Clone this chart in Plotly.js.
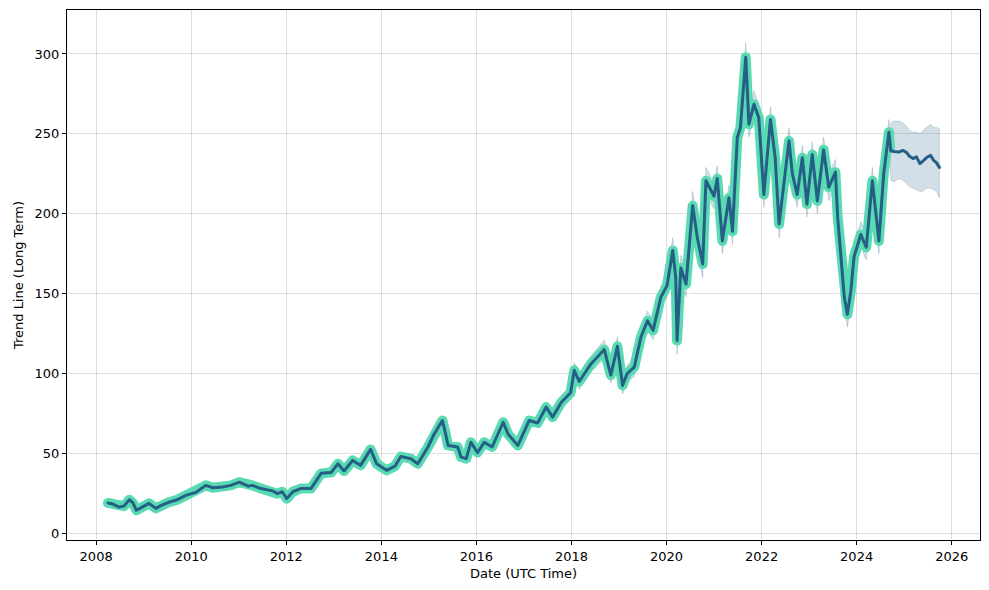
<!DOCTYPE html>
<html>
<head>
<meta charset="utf-8">
<script src="https://cdn.plot.ly/plotly-3.0.1.min.js"></script>
<style>
html,body{margin:0;padding:0;background:#fff}
#chart{width:989px;height:590px}
.scatterlayer path.js-line{stroke-linejoin:round !important;stroke-linecap:round !important}
</style>
</head>
<body>
<div id="chart"></div>
<script>
// ---- historical data (actual close, fitted trend and its band) ----
const histDates = ['2008-04-01','2008-05-01','2008-06-25','2008-08-01','2008-09-12','2008-10-10','2008-11-05','2008-12-15',
'2009-02-10','2009-04-05','2009-05-15','2009-07-12','2009-09-15','2009-11-20','2010-02-05','2010-04-22','2010-06-15',
'2010-08-30','2010-11-01','2011-01-05','2011-03-15','2011-04-15','2011-06-20','2011-08-20','2011-09-20','2011-10-25',
'2011-12-01','2012-01-05','2012-02-20','2012-04-20','2012-07-08','2012-09-25','2012-12-10','2013-02-01','2013-03-20',
'2013-05-25','2013-07-25','2013-10-10','2013-11-25','2014-02-10','2014-04-15','2014-05-30','2014-08-15','2014-10-08',
'2014-12-25','2015-02-10','2015-04-15','2015-05-10','2015-05-28','2015-08-10','2015-09-05','2015-10-15','2015-11-20',
'2016-01-10','2016-03-01','2016-05-01','2016-07-25','2016-09-01','2016-11-15','2017-02-10','2017-04-15','2017-06-20',
'2017-08-08','2017-10-15','2017-12-25','2018-01-22','2018-03-01','2018-05-30','2018-09-10','2018-10-30','2018-12-20',
'2019-01-28','2019-03-05','2019-04-28','2019-06-18','2019-08-08','2019-09-20','2019-11-18','2020-01-05','2020-02-18',
'2020-03-12','2020-03-22','2020-04-20','2020-05-30','2020-07-20','2020-08-25','2020-10-05','2020-10-30','2020-12-31',
'2021-01-25','2021-03-05','2021-04-25','2021-05-22','2021-06-28','2021-07-22','2021-09-01','2021-09-25','2021-11-03',
'2021-12-10','2022-01-18','2022-03-10','2022-04-15','2022-05-15','2022-07-30','2022-08-25','2022-10-01','2022-11-10',
'2022-12-15','2023-01-25','2023-03-05','2023-04-22','2023-06-01','2023-07-22','2023-08-08','2023-09-01','2023-09-28',
'2023-10-22','2023-11-18','2023-12-12','2024-02-02','2024-03-15','2024-05-01','2024-06-20','2024-07-27','2024-09-05',
'2024-09-14'];
const histValues = [19,18.5,16.4,17,21,19,14.4,16,
18.7,15.6,17.5,19.4,21,23.7,25.6,30,28.5,
29,30,32,29.5,30,28,27,26.5,24.8,
26,21.7,26,28,28,37.5,38,43.5,39,
45.6,42.5,52.5,43.5,39.4,42,48,46.7,43.5,
54,62,70.6,62,55,54,47.7,46.7,57,
50.5,57,54,69.5,62,55,70.6,69,79,
72.7,82,88,102,95,106,115,99,117,
92.5,100,104,122.7,133,127,147.7,155,177,
160,120.6,166,156,205,185,168.5,220.6,211,
222,183,210,189,247.7,254,298,256,268.5,
260,212,259,235,193.5,245.6,225,212,235,
206,237,208,240,216.5,226,198,173,148,
137,152,173,187,179,220.6,183,225,251,
241];
const histLower = [17.5,17,15,15.5,19.5,17.5,13,14.5,
17,14,16,18,19.5,22,24,28.5,27,
27.5,28.5,30.5,28,28.5,26.5,25.5,25,23,
24.5,20,24.5,26.5,26.5,35.5,36,41.5,37,
43.5,40.5,50,41.5,37.5,40,46,44.5,41.5,
51.5,59.5,68,59.5,52.5,51.5,45.5,44.5,54.5,
48,54.5,51.5,67,59.5,52.5,68,66.5,76,
70,79,85,97,90,101,109,94,111,
87,95,98,117,127,121,141,148,169,
152,112,158,148,196,177,160,212,203,
214,175,202,181,239,246,289,248,260,
252,204,251,227,185,237,217,204,227,
198,229,200,232,208,218,190,165,140,
129,144,165,179,171,212,175,217,243,
233];
const histUpper = [20.5,20,18,18.5,22.5,20.5,16,17.5,
20.5,17,19,21,22.5,25.5,27,31.5,30,
30.5,31.5,33.5,31,31.5,29.5,28.5,28,26.5,
27.5,23.5,27.5,29.5,29.5,39.5,40,45.5,41,
47.5,44.5,55,45.5,41.5,44,50,49,45.5,
56.5,64.5,73,64.5,57.5,56.5,50,49,59.5,
53,59.5,56.5,72,64.5,57.5,73,71.5,82,
75.5,85,91,107,100,111,121,104,123,
98,105,110,128,139,133,154,162,185,
168,129,174,164,214,193,177,229,219,
230,191,218,197,256,262,307,264,277,
268,220,267,243,202,254,233,220,243,
214,245,216,248,225,234,206,181,156,
145,160,181,195,187,229,191,233,259,
249];

// ---- forecast ----
const fcDates = ['2024-09-20','2024-10-15','2024-11-20','2024-12-20','2025-01-15','2025-02-10','2025-03-10',
'2025-04-05','2025-05-01','2025-05-25','2025-06-20','2025-07-22','2025-08-15','2025-09-05','2025-09-28'];
const fcValues = [239.4,239,238.6,239.6,238.6,236,234.5,235.6,231.4,233,235,236.6,233.4,232,229];
const fcUpper = [257,258,258,257,255,252,251,251,250,252,254,256,254,254,253];
const fcLower = [221,220,222,221,219,217,216,215,214,214,216,216,215,214,210];

// ---- axis ticks ----
const yTicks = [0,50,100,150,200,250,300];
const xTickYears = ['2008','2010','2012','2014','2016','2018','2020','2022','2024','2026'];

// build the band polygon from the arrays above
const bandX = histDates.concat(fcDates);
const bandUp = histUpper.concat(fcUpper);
const bandLo = histLower.concat(fcLower);
const polyX = bandX.concat(bandX.slice().reverse());
const polyY = bandUp.concat(bandLo.slice().reverse());

const trendX = histDates.concat(fcDates);
const trendY = histValues.concat(fcValues);

const dark = '#245f86';
const traces = [
  {x: polyX, y: polyY, type: 'scatter', mode: 'lines', fill: 'toself',
   fillcolor: 'rgba(36,95,134,0.2)', line: {color: 'rgba(36,95,134,0.25)', width: 0.8},
   hoverinfo: 'skip', showlegend: false},
  {x: histDates, y: histValues, type: 'scatter', mode: 'lines',
   line: {color: '#5adab3', width: 10, shape: 'linear'}, showlegend: false},
  {x: trendX, y: trendY, type: 'scatter', mode: 'lines',
   line: {color: dark, width: 3}, showlegend: false}
];

const font = {family: 'DejaVu Sans, sans-serif', size: 13, color: '#000'};
const layout = {
  width: 989, height: 590,
  margin: {l: 67, r: 9, t: 10, b: 50},
  paper_bgcolor: '#fff', plot_bgcolor: '#fff',
  font: font,
  showlegend: false,
  xaxis: {
    type: 'date',
    range: ['2007-05-22', '2026-08-06'],
    tickvals: xTickYears.map(y => y + '-01-01'),
    ticktext: xTickYears,
    showgrid: true, gridcolor: 'rgba(0,0,0,0.12)', gridwidth: 1,
    showline: true, linecolor: '#000', linewidth: 1, mirror: true,
    ticks: 'outside', ticklen: 4, tickcolor: '#000',
    zeroline: false,
    title: {text: 'Date (UTC Time)', font: font, standoff: 6}
  },
  yaxis: {
    range: [-4.2, 327.5],
    tickvals: yTicks,
    showgrid: true, gridcolor: 'rgba(0,0,0,0.12)', gridwidth: 1,
    showline: true, linecolor: '#000', linewidth: 1, mirror: true,
    ticks: 'outside', ticklen: 4, tickcolor: '#000',
    zeroline: false,
    title: {text: 'Trend Line (Long Term)', font: font, standoff: 8}
  }
};
Plotly.newPlot('chart', traces, layout, {displayModeBar: false, staticPlot: true});
</script>
</body>
</html>
